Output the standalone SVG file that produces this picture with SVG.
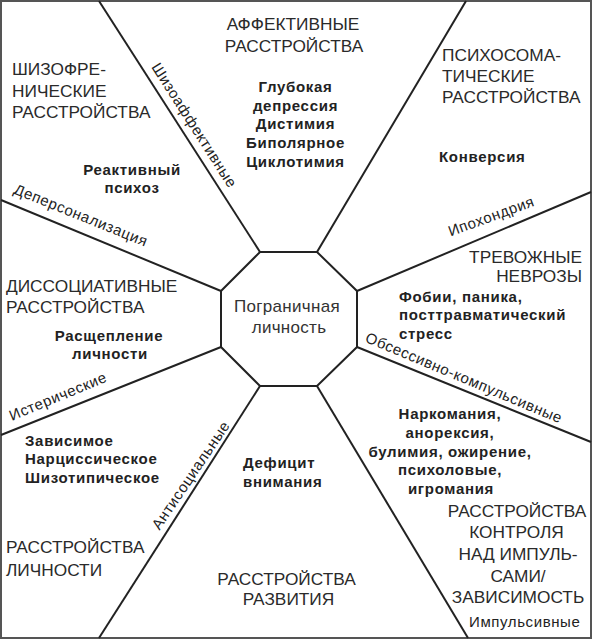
<svg xmlns="http://www.w3.org/2000/svg" width="592" height="639" viewBox="0 0 592 639">
<style>
text{font-family:"Liberation Sans",Arial,sans-serif;fill:#222}
.t{font-size:17.3px;fill:#2a2a2a}
.b{font-size:15px;font-weight:bold;letter-spacing:0.7px}
.l{font-size:15px;letter-spacing:0.6px}
.c{text-anchor:middle}
.e{text-anchor:end}
.ln{stroke:#222;stroke-width:2;fill:none}
</style>
<rect x="1" y="1" width="590" height="637" fill="#fff" stroke="#555" stroke-width="2"/>
<g id="connectors">
<line class="ln" x1="260" y1="252" x2="99" y2="1"/>
<line class="ln" x1="317" y1="252" x2="466" y2="1"/>
<line class="ln" x1="357" y1="291" x2="591" y2="192"/>
<line class="ln" x1="357" y1="347" x2="591" y2="442"/>
<line class="ln" x1="317" y1="386" x2="468" y2="638"/>
<line class="ln" x1="260" y1="386" x2="99" y2="638"/>
<line class="ln" x1="221" y1="347" x2="1" y2="435"/>
<line class="ln" x1="221" y1="291" x2="1" y2="200"/>
<text class="l c" transform="rotate(57.4 190 128)" x="190" y="128">Шизоаффективные</text>
<text class="l c" transform="rotate(22 79 220)" x="79" y="220">Деперсонализация</text>
<text class="l c" transform="rotate(-22.5 60 401)" x="60" y="401">Истерические</text>
<text class="l c" transform="rotate(-20 493 221)" x="493" y="221">Ипохондрия</text>
<text class="l c" transform="rotate(22.8 462 382.5)" x="462" y="382.5">Обсессивно-компульсивные</text>
<text class="l c" transform="rotate(-56 195 478)" x="195" y="478">Антисоциальные</text>
<text class="l" x="469" y="626.5">Импульсивные</text>
</g>
<g id="center">
<polygon points="260,252 317,252 357,291 357,347 317,386 260,386 221,347 221,291" fill="#fff" stroke="#222" stroke-width="2"/>
<text class="c" style="font-size:17px;letter-spacing:0.3px;fill:#333" x="287" y="311.5">Пограничная</text>
<text class="c" style="font-size:17px;letter-spacing:0.3px;fill:#333" x="289" y="332.7">личность</text>
</g>
<g id="affective">
<text class="t c" x="293" y="30">АФФЕКТИВНЫЕ</text>
<text class="t c" x="294" y="52">РАССТРОЙСТВА</text>
<text class="b c" x="295.5" y="92">Глубокая</text>
<text class="b c" x="295.5" y="110.7">депрессия</text>
<text class="b c" x="295.5" y="129.4">Дистимия</text>
<text class="b c" x="295.5" y="148.1">Биполярное</text>
<text class="b c" x="295.5" y="166.8">Циклотимия</text>
</g>
<g id="schizo">
<text class="t" x="12" y="75">ШИЗОФРЕ-</text>
<text class="t" x="12" y="97">НИЧЕСКИЕ</text>
<text class="t" x="12" y="118">РАССТРОЙСТВА</text>
<text class="b c" x="132" y="175">Реактивный</text>
<text class="b c" x="132" y="193">психоз</text>
</g>
<g id="psychosomatic">
<text class="t" x="442" y="60.7">ПСИХОСОМА-</text>
<text class="t" x="442" y="81.7">ТИЧЕСКИЕ</text>
<text class="t" x="442" y="102.7">РАССТРОЙСТВА</text>
<text class="b" x="439" y="162.3">Конверсия</text>
</g>
<g id="dissociative">
<text class="t" x="6" y="291.7">ДИССОЦИАТИВНЫЕ</text>
<text class="t" x="6" y="313.3">РАССТРОЙСТВА</text>
<text class="b c" x="109" y="340.5">Расщепление</text>
<text class="b c" x="110" y="359">личности</text>
</g>
<g id="anxiety">
<text class="t e" x="582" y="263.3">ТРЕВОЖНЫЕ</text>
<text class="t e" x="582" y="282.3">НЕВРОЗЫ</text>
<text class="b" x="399" y="301.5">Фобии, паника,</text>
<text class="b" x="399" y="320.3">посттравматический</text>
<text class="b" x="399" y="339.3">стресс</text>
</g>
<g id="personality">
<text class="b" x="25" y="445.5">Зависимое</text>
<text class="b" x="25" y="464.3">Нарциссическое</text>
<text class="b" x="25" y="483.3">Шизотипическое</text>
<text class="t" x="6" y="553.3">РАССТРОЙСТВА</text>
<text class="t" x="6" y="575.5">ЛИЧНОСТИ</text>
</g>
<g id="development">
<text class="b" x="243" y="468">Дефицит</text>
<text class="b" x="243" y="486.7">внимания</text>
<text class="t c" x="286.5" y="585">РАССТРОЙСТВА</text>
<text class="t c" x="288.5" y="605">РАЗВИТИЯ</text>
</g>
<g id="impulse">
<text class="b c" x="450" y="419">Наркомания,</text>
<text class="b c" x="450" y="437.7">анорексия,</text>
<text class="b c" x="450" y="456.5">булимия, ожирение,</text>
<text class="b c" x="450" y="475.2">психоловые,</text>
<text class="b c" x="451" y="494">игромания</text>
<text class="t c" x="517" y="516.7">РАССТРОЙСТВА</text>
<text class="t c" x="516.5" y="538.3">КОНТРОЛЯ</text>
<text class="t c" x="518" y="560">НАД ИМПУЛЬ-</text>
<text class="t c" x="518" y="581.7">САМИ/</text>
<text class="t c" x="518" y="602.7">ЗАВИСИМОСТЬ</text>
</g>
</svg>
